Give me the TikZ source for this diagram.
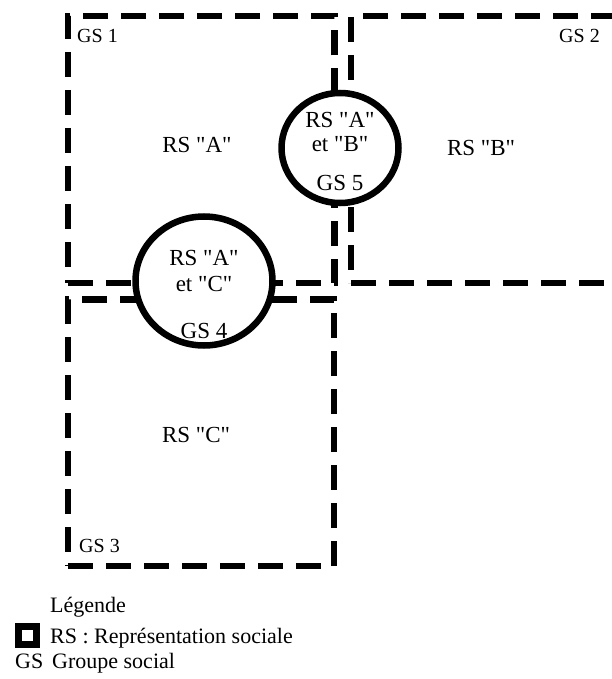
\documentclass[tikz,border=0pt]{standalone}
\usepackage{fontspec}
\setmainfont{Liberation Serif}[Ligatures=TeXOff]
\usetikzlibrary{shapes.geometric}

\begin{document}
\begin{tikzpicture}[x=1pt, y=-1pt,
		groupe/.style={draw, rectangle, line width=6.5pt, dash pattern=on 25pt off 13pt, inner sep=0pt, outer sep=0pt},
		inter/.style={draw, ellipse, fill=white, line width=6.5pt, inner sep=0pt, outer sep=0pt},
		rs/.style={font=\fontsize{23}{27}\selectfont, inner sep=0pt},
		gs/.style={font=\fontsize{20}{24}\selectfont, inner sep=0pt},
		leg/.style={font=\fontsize{22}{26}\selectfont, anchor=base west, inner sep=0pt}]
		% Bildbereich
		\useasboundingbox (0,0) rectangle (612,679);
		\clip (0,0) rectangle (612,679);
		% Gruppen (gestrichelt)
		\node[groupe, minimum width=266.5pt, minimum height=267pt] (gs1) at (201.25,149.5) {};
		\node[groupe, minimum width=265pt, minimum height=267pt] (gs2) at (483.5,149.5) {};
		\node[groupe, minimum width=266pt, minimum height=266.5pt] (gs3) at (201,432.75) {};
		% Schnittmengen
		\node[inter, minimum width=137pt, minimum height=129pt] (gs4) at (204,281) {};
		\node[inter, minimum width=117pt, minimum height=110pt] (gs5) at (340,148) {};
		% Beschriftung der Gruppen
		\node[gs, anchor=base west] (t1) at (77,43) {GS 1};
		\node[gs, anchor=base east] (t2) at (600,43) {GS 2};
		\node[gs, anchor=base west] (t3) at (79,552) {GS 3};
		\node[rs] (rsa) at (197,145) {RS "A"};
		\node[rs] (rsb) at (481,148) {RS "B"};
		\node[rs] (rsc) at (196,435) {RS "C"};
		% Text in den Kreisen
		\node[rs] (ac1) at (204,258) {RS "A"};
		\node[rs] (ac2) at (204,284) {et "C"};
		\node[rs] (ac3) at (204,331) {GS 4};
		\node[rs] (ab1) at (340,119.5) {RS "A"};
		\node[rs] (ab2) at (340,144.5) {et "B"};
		\node[rs] (ab3) at (340,182.5) {GS 5};
		% Legende
		\node[leg] (leg) at (50,612) {Légende};
		\node[draw, line width=6.7pt, minimum size=18.3pt, inner sep=0pt, outer sep=0pt] (legsq) at (27.5,635.5) {};
		\node[leg] (legrs) at (50,643) {RS : Représentation sociale};
		\node[leg] (leggs) at (15,668) {GS};
		\node[leg] (leggr) at (52,668) {Groupe social};
	\end{tikzpicture}
\end{document}
